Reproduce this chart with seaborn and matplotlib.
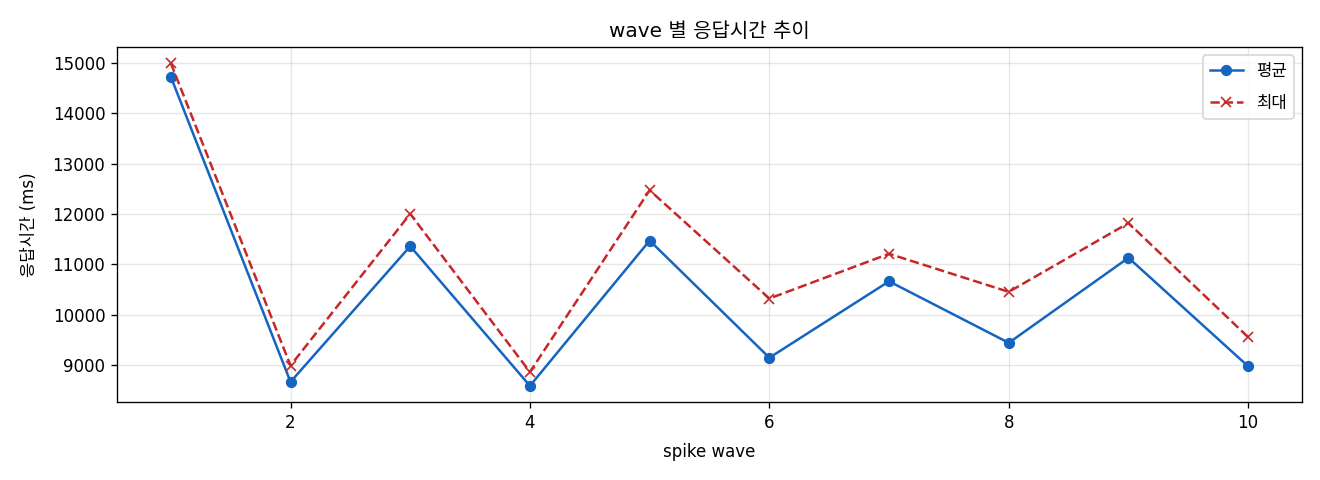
import numpy as np
import pandas as pd
import matplotlib
matplotlib.use('Agg')
import matplotlib.pyplot as plt
import seaborn as sns

plt.rcParams['font.family'] = ['DejaVu Sans', 'Noto Sans CJK KR']
plt.rcParams['axes.unicode_minus'] = False

# ============================================================
# 데이터
# ============================================================
waves = [1, 2, 3, 4, 5, 6, 7, 8, 9, 10]
avg_ms = [14730, 8665, 11362, 8586, 11474, 9145, 10664, 9441, 11132, 8974]
max_ms = [15000, 8990, 12005, 8862, 12474, 10322, 11211, 10454, 11822, 9553]

df = pd.DataFrame({'wave': waves, 'avg': avg_ms, 'max': max_ms})

blue = '#1565C0'
red = '#C62828'

fig, ax = plt.subplots(figsize=(11, 4), dpi=120)
sns.lineplot(data=df, x='wave', y='avg', ax=ax, marker='o', color=blue,
             linewidth=1.5, markersize=6, markeredgecolor=blue, label='평균')
sns.lineplot(data=df, x='wave', y='max', ax=ax, marker='x', color=red,
             linewidth=1.5, linestyle='--', markersize=6, markeredgecolor=red,
             markeredgewidth=1.0, label='최대')
ax.set_title('wave 별 응답시간 추이', fontsize=12)
ax.set_xlabel('spike wave', labelpad=7)
ax.set_ylabel('응답시간 (ms)', labelpad=9)
ax.grid(alpha=0.3)
ax.legend(loc='upper right', labelspacing=0.85)
plt.subplots_adjust(left=0.0886, right=0.9864, top=0.902, bottom=0.1625)
plt.savefig('out.png', dpi=120)
plt.close()
